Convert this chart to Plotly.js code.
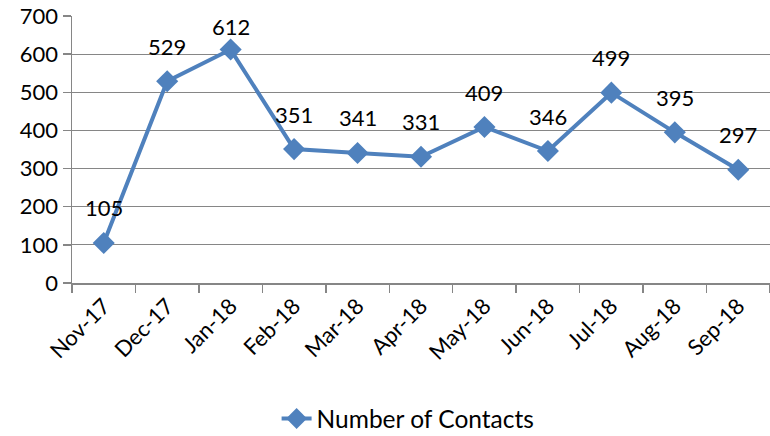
<!DOCTYPE html>
<html>
<head>
<meta charset="utf-8">
<script src="https://cdn.plot.ly/plotly-3.0.1.min.js"></script>
<style>html,body{margin:0;padding:0;background:#fff;}#chart{width:770px;height:436px;}</style>
</head>
<body>
<div id="chart"></div>
<script>
const months = ["Nov-17","Dec-17","Jan-18","Feb-18","Mar-18","Apr-18","May-18","Jun-18","Jul-18","Aug-18","Sep-18"];
const contacts = [105,529,612,351,341,331,409,346,499,395,297];
const seriesName = "Number of Contacts";
const yTicks = [0,100,200,300,400,500,600,700];

const FONT = "Lato, 'Open Sans', sans-serif";
const blue = "#4F81BD";
const grid = "#868686";

const trace = {
  x: months, y: contacts, type: "scatter", mode: "lines+markers",
  name: seriesName,
  line: {color: blue, width: 4},
  marker: {symbol: "diamond", size: 17, color: blue}
};

// label sits ~35px above its point; the top one is squeezed by the chart edge
const annotations = months.map((m, i) => ({
  x: m, y: contacts[i], xref: "x", yref: "y",
  text: String(contacts[i]), showarrow: false,
  yshift: contacts[i] > 600 ? 23 : 35,
  font: {family: FONT, size: 22, color: "#000"}
}));

const layout = {
  width: 770, height: 436,
  margin: {l: 72, r: 0, t: 16, b: 153, autoexpand: false},
  paper_bgcolor: "#fff", plot_bgcolor: "#fff",
  font: {family: FONT, size: 22, color: "#000"},
  showlegend: true,
  legend: {orientation: "h", xref: "container", yref: "container",
           x: 0.53, xanchor: "center", y: 0.04, yanchor: "middle",
           font: {family: FONT, size: 24.5, color: "#000"}},
  xaxis: {
    type: "category", range: [-0.5, months.length - 0.5],
    tickangle: -45, tickson: "boundaries", automargin: false,
    ticks: "outside", ticklen: 8, tickcolor: grid, tickwidth: 1.5,
    showline: true, linecolor: grid, linewidth: 1.5,
    showgrid: false, zeroline: false,
    tickfont: {family: FONT, size: 22, color: "#000"}
  },
  yaxis: {
    range: [0, 700], tickvals: yTicks, ticktext: yTicks.map(String), automargin: false,
    ticks: "outside", ticklen: 8, tickcolor: grid, tickwidth: 1.5,
    showline: true, linecolor: grid, linewidth: 1.5,
    showgrid: true, gridcolor: grid, gridwidth: 1, zeroline: false,
    tickfont: {family: FONT, size: 22, color: "#000"}
  },
  annotations: annotations
};

Plotly.newPlot("chart", [trace], layout, {displayModeBar: false, staticPlot: true});
</script>
</body>
</html>
